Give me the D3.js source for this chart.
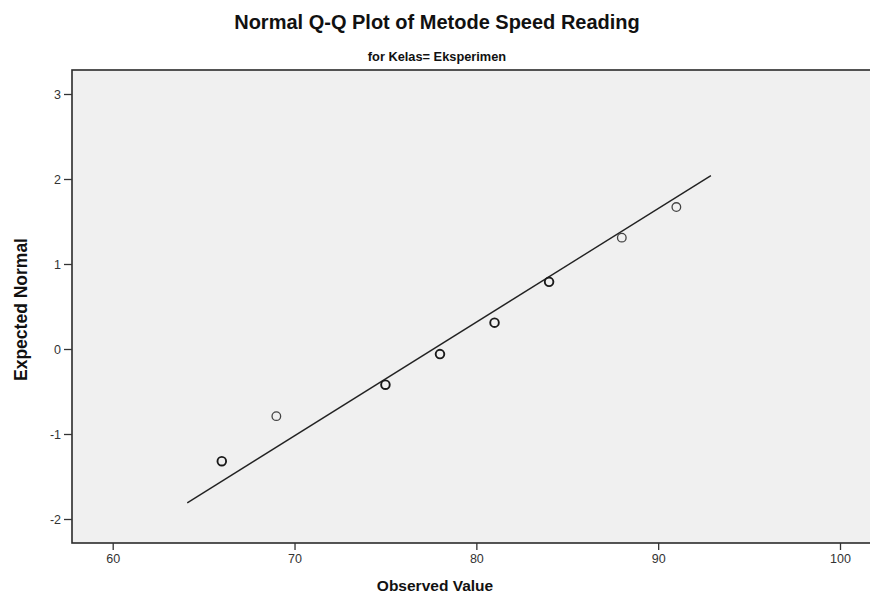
<!DOCTYPE html>
<html>
<head>
<meta charset="utf-8">
<script src="https://cdn.jsdelivr.net/npm/d3@7"></script>
<style>
  body { margin: 0; background: #fff; }
  svg { display: block; font-family: "Liberation Sans", Arial, sans-serif; }
</style>
</head>
<body>
<svg id="chart" width="870" height="598"></svg>
<script>
const observed = [66, 69, 75, 78, 81, 84, 88, 91];
const expected = [-1.32, -0.79, -0.42, -0.06, 0.31, 0.79, 1.31, 1.67];
const counts = [2, 1, 2, 2, 2, 2, 1, 1];
const lineX = [64.1, 92.9];
const lineY = [-1.81, 2.04];
const xTicks = [60, 70, 80, 90, 100];
const yTicks = [-2, -1, 0, 1, 2, 3];

const svg = d3.select("#chart");
const plot = { left: 72, top: 70, bottom: 543, right: 905 };

const x = d3.scaleLinear().domain([60, 100]).range([112.7, 840]);
const y = d3.scaleLinear().domain([0, 1]).range([349, 264]);

// plot background, runs past the right edge like the original
svg.append("rect")
  .attr("x", plot.left)
  .attr("y", plot.top)
  .attr("width", plot.right - plot.left)
  .attr("height", plot.bottom - plot.top)
  .attr("fill", "#f0f0f0")
  .attr("stroke", "#2b2b2b")
  .attr("stroke-width", 1.6);

const fmt = d => String(d);

const xAxis = svg.append("g")
  .attr("transform", `translate(0,${plot.bottom})`)
  .call(d3.axisBottom(x).tickValues(xTicks).tickFormat(fmt).tickSize(7).tickSizeOuter(0).tickPadding(4));
xAxis.select(".domain").remove();

const yAxis = svg.append("g")
  .attr("transform", `translate(${plot.left},0)`)
  .call(d3.axisLeft(y).tickValues(yTicks).tickFormat(fmt).tickSize(8).tickSizeOuter(0).tickPadding(3));
yAxis.select(".domain").remove();

svg.selectAll(".tick line").attr("stroke", "#333").attr("stroke-width", 1.3);
svg.selectAll(".tick text")
  .attr("fill", "#333")
  .style("font-family", "Liberation Sans, Arial, sans-serif")
  .style("font-size", "12.5px");

// reference line
svg.append("line")
  .attr("x1", x(lineX[0]))
  .attr("y1", y(lineY[0]))
  .attr("x2", x(lineX[1]))
  .attr("y2", y(lineY[1]))
  .attr("stroke", "#222")
  .attr("stroke-width", 1.4);

// points, tied values drawn heavier
const pts = observed.map((v, i) => ({ v, e: expected[i], n: counts[i] }));
svg.append("g")
  .selectAll("circle")
  .data(pts)
  .join("circle")
  .attr("cx", d => x(d.v))
  .attr("cy", d => y(d.e))
  .attr("r", 4.3)
  .attr("fill", "none")
  .attr("stroke", d => d.n > 1 ? "#1a1a1a" : "#444")
  .attr("stroke-width", d => d.n > 1 ? 1.9 : 1.3);

// titles
svg.append("text")
  .attr("x", 437)
  .attr("y", 29)
  .attr("text-anchor", "middle")
  .style("font-weight", "bold")
  .style("font-size", "20px")
  .attr("fill", "#111")
  .text("Normal Q-Q Plot of Metode Speed Reading");

svg.append("text")
  .attr("x", 437)
  .attr("y", 61)
  .attr("text-anchor", "middle")
  .style("font-weight", "bold")
  .style("font-size", "12.8px")
  .attr("fill", "#111")
  .text("for Kelas= Eksperimen");

svg.append("text")
  .attr("x", 435)
  .attr("y", 591)
  .attr("text-anchor", "middle")
  .style("font-weight", "bold")
  .style("font-size", "15.5px")
  .attr("fill", "#111")
  .text("Observed Value");

svg.append("text")
  .attr("transform", `translate(27,${(plot.top + plot.bottom) / 2 + 3}) rotate(-90)`)
  .attr("text-anchor", "middle")
  .style("font-weight", "bold")
  .style("font-size", "17.5px")
  .attr("fill", "#111")
  .text("Expected Normal");
</script>
</body>
</html>
